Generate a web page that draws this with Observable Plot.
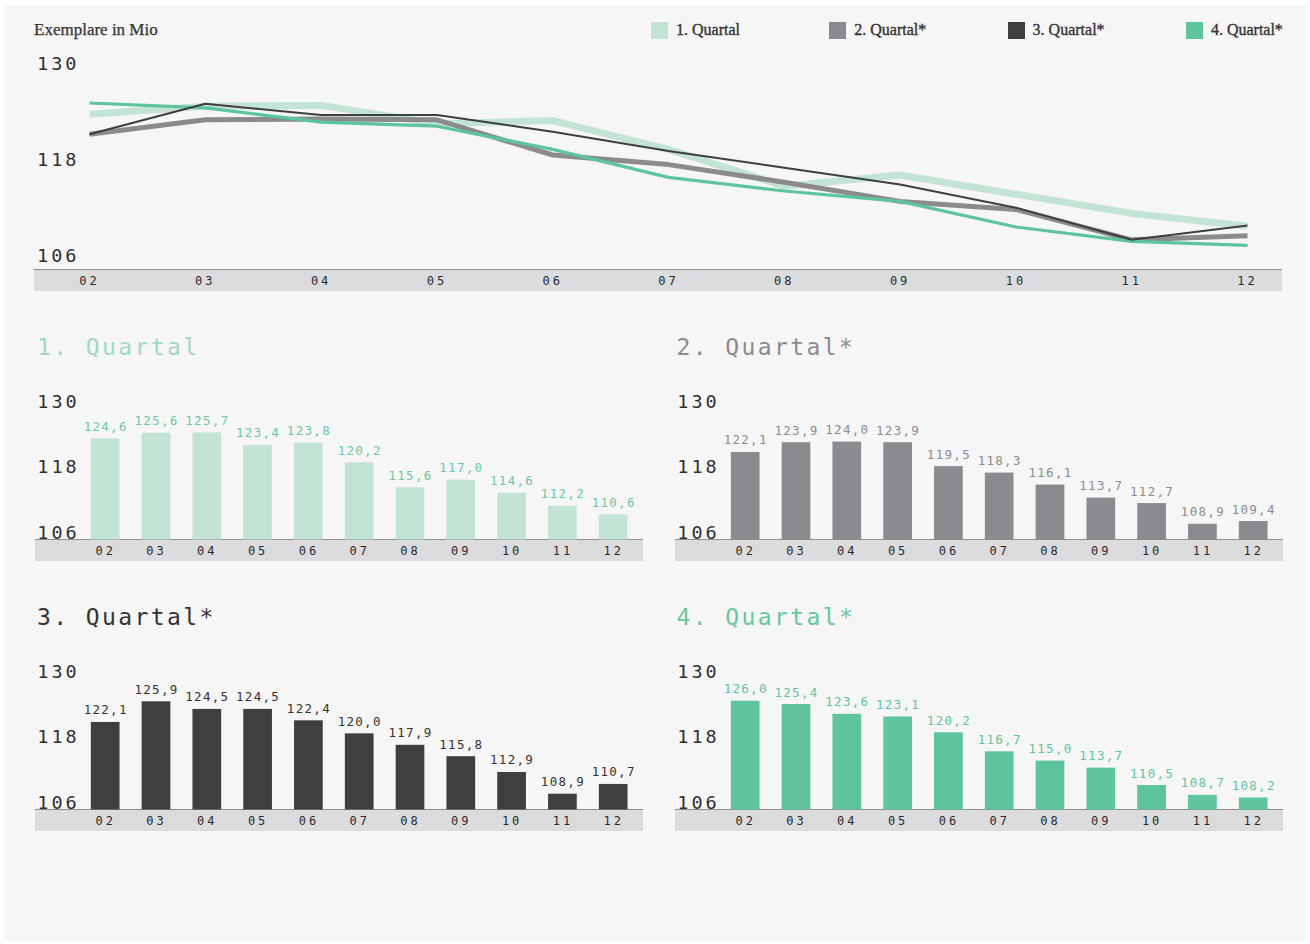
<!DOCTYPE html>
<html lang="de">
<head>
<meta charset="utf-8">
<title>Exemplare in Mio – Quartale 2002–2012</title>
<script src="https://cdn.jsdelivr.net/npm/d3@7"></script>
<script src="https://cdn.jsdelivr.net/npm/@observablehq/plot@0.6"></script>
<style>
  html, body { margin: 0; padding: 0; background: #ffffff; }
  #chart { position: relative; width: 1310px; height: 944px; overflow: hidden; }
  #panel { position: absolute; left: 4px; top: 5px; width: 1302px; height: 936px; background: #f6f6f6; }
  .band { position: absolute; height: 21px; background: #dcdcde; border-top: 1.5px solid #8e8e90; }
  .unit { font-family: "Liberation Serif", serif; font-size: 17px; color: #333; white-space: nowrap; -webkit-text-stroke: 0.25px #333; }
  .legend-swatch { position: absolute; width: 17px; height: 17px; }
  .legend-text { position: absolute; font-family: "Liberation Serif", serif; font-size: 16px; color: #333; white-space: nowrap; -webkit-text-stroke: 0.35px #333; }
  .title { position: absolute; font-family: "DejaVu Sans Mono", monospace; font-size: 23px; letter-spacing: 2.4px; white-space: nowrap; line-height: normal; }
  svg g[aria-label="y-axis tick label"] { letter-spacing: 3px; }
  svg g[aria-label="x-axis tick label"] { letter-spacing: 3px; }
  svg g[aria-label="x-axis tick label"] text { -webkit-text-stroke: 0.35px #2a2a2a; }
  svg g[aria-label="text"] { letter-spacing: 1.3px; }
</style>
</head>
<body>
<div id="chart"><div id="panel"></div></div>
<script>
// Jahrgänge (2002–2012) und verkaufte Exemplare in Mio je Quartal
const years = ["02", "03", "04", "05", "06", "07", "08", "09", "10", "11", "12"];
const q1 = [124.6, 125.6, 125.7, 123.4, 123.8, 120.2, 115.6, 117.0, 114.6, 112.2, 110.6];
const q2 = [122.1, 123.9, 124.0, 123.9, 119.5, 118.3, 116.1, 113.7, 112.7, 108.9, 109.4];
const q3 = [122.1, 125.9, 124.5, 124.5, 122.4, 120.0, 117.9, 115.8, 112.9, 108.9, 110.7];
const q4 = [126.0, 125.4, 123.6, 123.1, 120.2, 116.7, 115.0, 113.7, 110.5, 108.7, 108.2];
const seriesNames = ["1. Quartal", "2. Quartal*", "3. Quartal*", "4. Quartal*"];
const yTicks = [106, 118, 130];
const yDomain = [106, 130];
const unitLabel = "Exemplare in Mio";

const MONO = "DejaVu Sans Mono, monospace";
const fmt = v => d3.format(".1f")(v).replace(".", ",");
const rowsOf = values => years.map((year, i) => ({year, value: values[i]}));

const chartEl = document.getElementById("chart");
function place(el, left, topPx) {
  el.style.position = "absolute";
  el.style.left = left + "px";
  el.style.top = topPx + "px";
  chartEl.appendChild(el);
  return el;
}
function band(left, topPx, width) {
  const d = document.createElement("div");
  d.className = "band";
  d.style.width = width + "px";
  return place(d, left, topPx);
}

// Stil je Serie: Farbe, Linienstärke, Beschriftungsfarben
const styles = [
  {name: seriesNames[0], values: q1, color: "#c3e4d5", width: 7,   label: "#6cc8a4", title: "#a3d9c2"},
  {name: seriesNames[1], values: q2, color: "#8b8b8f", width: 5,   label: "#8b8b8f", title: "#8b8b8f"},
  {name: seriesNames[2], values: q3, color: "#3e3f41", width: 2,   label: "#333333", title: "#333333"},
  {name: seriesNames[3], values: q4, color: "#5ec49c", width: 3.2, label: "#62c49e", title: "#66c6a0"}
];

// Kopfzeile: Einheit und Legende
const unit = document.createElement("div");
unit.className = "unit";
unit.textContent = unitLabel;
place(unit, 34, 20);
styles.forEach((s, i) => {
  const left = 651 + i * 178.3;
  const sw = document.createElement("div");
  sw.className = "legend-swatch";
  sw.style.background = s.color;
  place(sw, left, 22);
  const t = document.createElement("div");
  t.className = "legend-text";
  t.textContent = s.name;
  place(t, left + 25, 21);
});

// Liniendiagramm aller vier Quartale
band(34, 268.5, 1248);
const lineOrder = [0, 1, 3, 2];
const lineChart = Plot.plot({
  width: 1310,
  height: 300,
  marginLeft: 89,
  marginRight: 63,
  marginTop: 70,
  marginBottom: 31,
  style: {background: "transparent", overflow: "visible"},
  x: {type: "point", domain: years, padding: 0, round: false, label: null},
  y: {domain: yDomain, range: [262.5, 70.5], label: null},
  marks: [
    ...lineOrder.map(i => Plot.line(rowsOf(styles[i].values), {
      x: "year", y: "value", stroke: styles[i].color, strokeWidth: styles[i].width,
      strokeLinecap: "butt", strokeLinejoin: "miter"
    })),
    Plot.axisY({ticks: yTicks, tickSize: 0, tickPadding: 52.5, textAnchor: "start", lineAnchor: "bottom", dy: -1,
      fontFamily: MONO, fontSize: 18.5, fill: "#2e2e2e", label: null}),
    Plot.axisX({tickSize: 0, tickPadding: 6.5, fontFamily: MONO, fontSize: 12, fill: "#2a2a2a", label: null})
  ]
});
place(lineChart, 0, 0);

// Balkendiagramme je Quartal (2 × 2)
const panels = [
  {s: styles[0], left: 0,     y0: 380},
  {s: styles[1], left: 639.5, y0: 380},
  {s: styles[2], left: 0,     y0: 650},
  {s: styles[3], left: 639.5, y0: 650}
];
panels.forEach(({s, left, y0}) => {
  const title = document.createElement("div");
  title.className = "title";
  title.textContent = s.name;
  title.style.color = s.title;
  place(title, left + 37, y0 - 46);

  band(left + 35, y0 + 159, 608);

  const svg = Plot.plot({
    width: 650,
    height: 190,
    marginLeft: 79.8,
    marginRight: 11.4,
    marginTop: 29,
    marginBottom: 30.5,
    style: {background: "transparent", overflow: "visible"},
    x: {type: "band", domain: years, paddingInner: 0.435, paddingOuter: 0.2175, round: false, label: null},
    y: {domain: yDomain, label: null},
    marks: [
      Plot.barY(rowsOf(s.values), {x: "year", y1: yDomain[0], y2: "value", fill: s.color}),
      Plot.text(rowsOf(s.values), {x: "year", y: "value", text: d => fmt(d.value), dy: -8,
        lineAnchor: "bottom", fontFamily: MONO, fontSize: 12.5, fill: s.label}),
      Plot.axisY({ticks: yTicks, tickSize: 0, tickPadding: 43, textAnchor: "start", lineAnchor: "bottom", dy: -1.5,
        fontFamily: MONO, fontSize: 18.5, fill: "#2e2e2e", label: null}),
      Plot.axisX({tickSize: 0, tickPadding: 6.5, fontFamily: MONO, fontSize: 12, fill: "#2a2a2a", label: null})
    ]
  });
  place(svg, left, y0);
});
</script>
</body>
</html>
